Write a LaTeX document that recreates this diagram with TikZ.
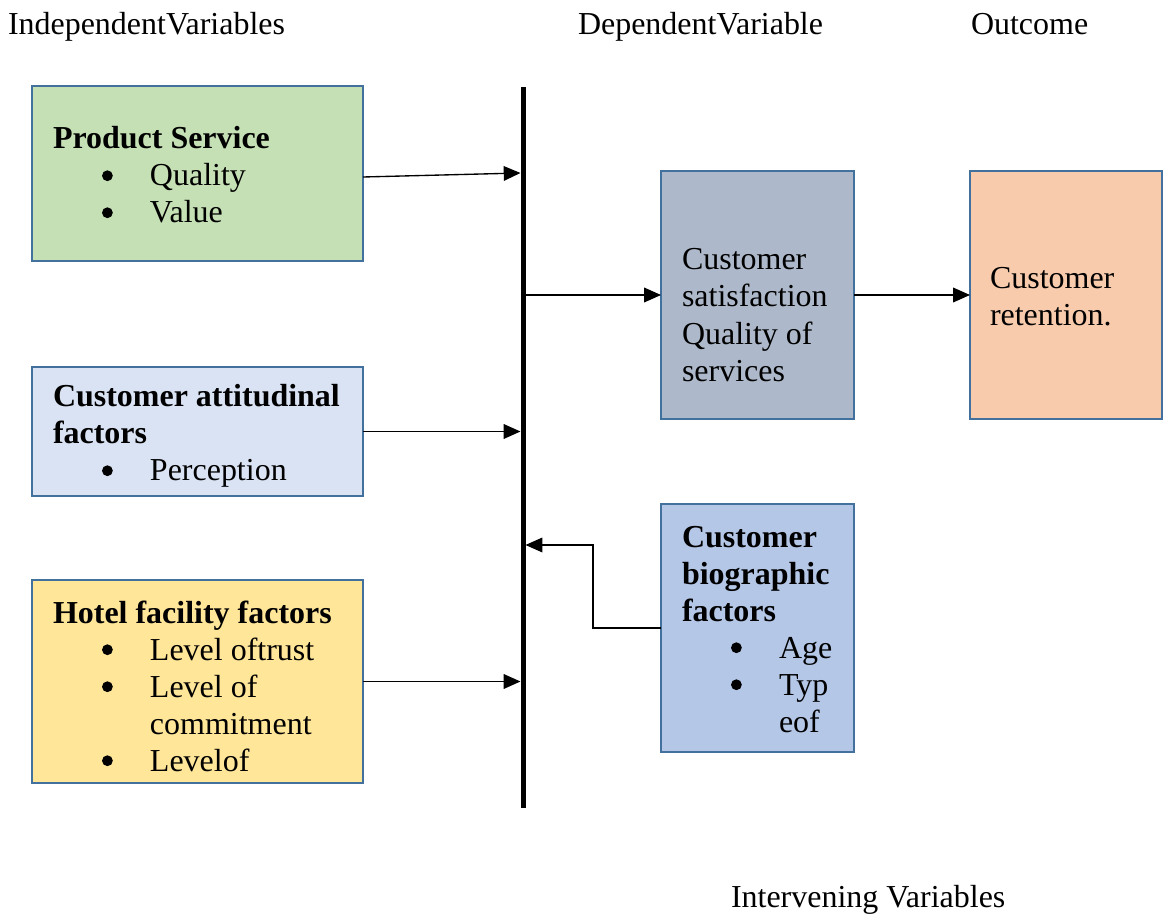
\documentclass[tikz,border=0pt]{standalone}
\usepackage{fontspec}
\setmainfont{Liberation Serif}
\usetikzlibrary{arrows.meta}
\newlength\px
\setlength\px{0.37pt}
% round list bullet
\newcommand\bdot{\tikz[baseline=0pt]{\useasboundingbox (0pt,0pt) rectangle (4pt,7.6pt);\fill (2pt,3.8pt) circle (2pt);}}
% bulleted line and its continuation indent
\newcommand\bitem[1]{\makebox[97\px][l]{\hspace{49\px}\bdot}#1}
\newcommand\bcont[1]{\makebox[97\px][l]{}#1}
\definecolor{edgeblue}{HTML}{41719C}
\definecolor{fgreen}{HTML}{C5E0B4}
\definecolor{flblue}{HTML}{DAE3F3}
\definecolor{fyellow}{HTML}{FFE699}
\definecolor{fgrey}{HTML}{ADB9CA}
\definecolor{forange}{HTML}{F8CBAD}
\definecolor{fblue}{HTML}{B4C7E7}
\tikzset{
  box/.style={draw=edgeblue, line width=0.9pt, rectangle, inner sep=0pt, outer sep=0pt, anchor=north west},
  txt/.style={anchor=base west, inner sep=0pt, outer sep=0pt, font=\fontsize{11.83}{13.69}\selectfont},
  arr/.style={line width=0.5pt, -{Triangle[length=6.2pt,width=5.4pt]}},
}
\begin{document}
\begin{tikzpicture}[x=0.37pt, y=-0.37pt]
\useasboundingbox (0,0) rectangle (1163,915);

% column headings
\node[txt] (hind) at (8,35) {IndependentVariables};
\node[txt] (hdep) at (578,35) {DependentVariable};
\node[txt] (hout) at (971,35) {Outcome};
\node[txt] (hint) at (731,907) {Intervening Variables};

% boxes
\node[box, fill=fgreen, minimum width=331\px, minimum height=175\px] (prod) at (32,86) {};
\node[box, fill=flblue, minimum width=331\px, minimum height=129\px] (att) at (32,367) {};
\node[box, fill=fyellow, minimum width=331\px, minimum height=203\px] (hotel) at (32,580) {};
\node[box, fill=fgrey, minimum width=193\px, minimum height=248\px] (sat) at (661,171) {};
\node[box, fill=forange, minimum width=192\px, minimum height=248\px] (ret) at (970,171) {};
\node[box, fill=fblue, minimum width=193\px, minimum height=248\px] (bio) at (661,504) {};

% thick vertical bar
\node[fill=black, inner sep=0pt, outer sep=0pt, minimum width=5\px, minimum height=721\px] (bar) at (523,447.5) {};

% box texts
\node[txt] (tprod) at (53,149) {\parbox[t]{310\px}{\textbf{Product Service}\\\bitem{Quality}\\\bitem{Value}}};
\node[txt] (tatt) at (53,407) {\parbox[t]{310\px}{\textbf{Customer attitudinal}\\\textbf{factors}\\\bitem{Perception}}};
\node[txt] (thotel) at (53,623) {\parbox[t]{310\px}{\textbf{Hotel facility factors}\\\bitem{Level oftrust}\\\bitem{Level of}\\\bcont{commitment}\\\bitem{Levelof}}};
\node[txt] (tsat) at (682,270) {\parbox[t]{170\px}{Customer\\satisfaction\\Quality of\\services}};
\node[txt] (tret) at (990,289) {\parbox[t]{170\px}{Customer\\retention.}};
\node[txt] (tbio) at (682,547) {\parbox[t]{170\px}{\textbf{Customer}\\\textbf{biographic}\\\textbf{factors}\\\bitem{Age}\\\bitem{Typ}\\\bcont{eof}}};

% connectors
\coordinate (hit1) at (523,173);
\coordinate (bend) at (593,545);
\draw[arr] ([yshift=-3.5\px]prod.east) -- (hit1 -| bar.west);
\draw[arr] (att.east) -- (att.east -| bar.west);
\draw[arr] (hotel.east) -- (hotel.east -| bar.west);
\draw[arr] (sat.west -| bar.east) -- (sat.west);
\draw[arr] (sat.east) -- (ret.west);
\draw[arr] (bio.west) -| (bend) -- (bend -| bar.east);
\end{tikzpicture}
\end{document}
